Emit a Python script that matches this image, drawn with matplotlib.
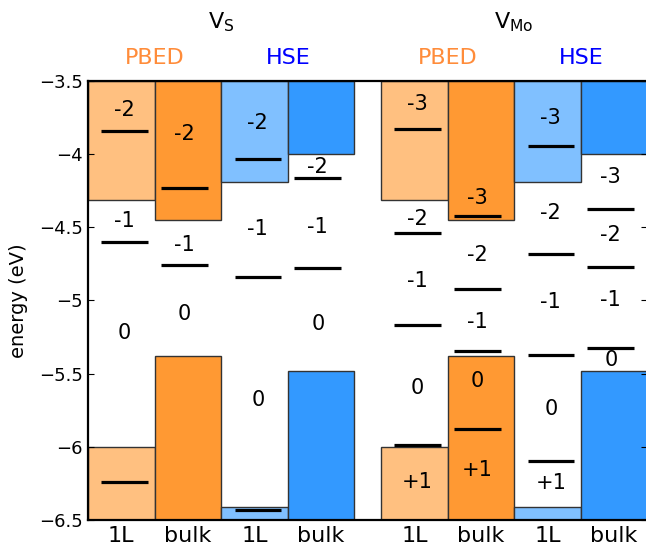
"""Defect transition levels of V_S and V_Mo, PBED vs HSE, monolayer vs bulk"""
import numpy as np
import matplotlib.pyplot as plt
import matplotlib.transforms as mtransforms

plt.rcParams['font.family'] = ['DejaVu Sans']
plt.rcParams['mathtext.default'] = 'regular'

# band edges for each column (eV)
col_labels = ['1L', 'bulk', '1L', 'bulk', '1L', 'bulk', '1L', 'bulk']
cbm = [-4.31, -4.45, -4.19, -4.00, -4.31, -4.45, -4.19, -4.00]
vbm = [-6.00, -5.38, -6.41, -5.48, -6.00, -5.38, -6.41, -5.48]

# transition levels (eV)
levels = [
    [-3.84, -4.60, -6.24],
    [-4.23, -4.76],
    [-4.03, -4.84, -6.43],
    [-4.165, -4.78],
    [-3.83, -4.54, -5.17, -5.99],
    [-4.42, -4.92, -5.345, -5.88],
    [-3.944, -4.68, -5.37, -6.10],
    [-4.377, -4.77, -5.327],
]

# charge state labels and where they sit
charges = [
    ['-2', '-1', '0'],
    ['-2', '-1', '0'],
    ['-2', '-1', '0'],
    ['-2', '-1', '0'],
    ['-3', '-2', '-1', '0', '+1'],
    ['-3', '-2', '-1', '0', '+1'],
    ['-3', '-2', '-1', '0', '+1'],
    ['-3', '-2', '-1', '0'],
]
charge_y = [
    [-3.70, -4.46, -5.22],
    [-3.86, -4.62, -5.09],
    [-3.79, -4.51, -5.68],
    [-4.09, -4.50, -5.16],
    [-3.66, -4.44, -4.87, -5.60, -6.24],
    [-4.30, -4.69, -5.145, -5.55, -6.16],
    [-3.75, -4.40, -5.01, -5.74, -6.25],
    [-4.154, -4.55, -5.00, -5.41],
]

defects = ['V$_S$', 'V$_{Mo}$']
methods = ['PBED', 'HSE']
y_ticks = [-3.5, -4, -4.5, -5, -5.5, -6, -6.5]
y_ticklabels = ['\u22123.5', '\u22124', '\u22124.5', '\u22125',
                '\u22125.5', '\u22126', '\u22126.5']

fill_colors = ['#ffc080', '#ff9933', '#80c0ff', '#3399ff']
method_colors = ['#ff8c3a', '#0000ff']
group_gap = 0.4

fig = plt.figure(figsize=(6.46, 5.54), dpi=100)
ax = fig.add_axes([0.1362, 0.0614, 0.866, 0.7924])
ymin, ymax = -6.5, -3.5

x_left = np.array([g * (4 + group_gap) + i for g in range(2) for i in range(4)])

# conduction band from the top, valence band from the bottom
colors = fill_colors * 2
for x0, c, v, col in zip(x_left, cbm, vbm, colors):
    ax.bar(x0, ymax - c, bottom=c, width=1, align='edge',
           color=col, edgecolor='#333333', linewidth=1, zorder=1)
    ax.bar(x0, v - ymin, bottom=ymin, width=1, align='edge',
           color=col, edgecolor='#333333', linewidth=1, zorder=1)

# levels and charge states
for k, x0 in enumerate(x_left):
    start = 0.2 if col_labels[k] == '1L' else 0.1
    for e in levels[k]:
        ax.plot([x0 + start, x0 + start + 0.7], [e, e], color='black',
                lw=2.3, solid_capstyle='butt', zorder=3)
    for q, yq in zip(charges[k], charge_y[k]):
        ax.text(x0 + start + 0.35, yq, q, ha='center', va='center',
                fontsize=15, zorder=4)

# headers above the axes
trans = mtransforms.blended_transform_factory(ax.transData, ax.transAxes)
for g, name in enumerate(defects):
    gx = g * (4 + group_gap)
    ax.text(gx + 2, 1.134, name, transform=trans, ha='center', va='center',
            fontsize=16)
    for m, meth in enumerate(methods):
        ax.text(gx + 2 * m + 1, 1.052, meth, transform=trans, ha='center',
                va='center', fontsize=16, color=method_colors[m])

ax.set_xlim(0, 8 + group_gap)
ax.set_ylim(ymin, ymax)
ax.set_xticks(x_left + 0.5)
ax.set_xticklabels(col_labels, fontsize=16)
ax.tick_params(axis='x', length=0, pad=4)
ax.set_yticks(y_ticks)
ax.set_yticklabels(y_ticklabels, fontsize=13)
ax.tick_params(axis='y', direction='in', left=True, right=True, length=4)
ax.set_ylabel('energy (eV)', fontsize=14)
ax.yaxis.set_label_coords(-0.107, 0.5)
for s in ax.spines.values():
    s.set_linewidth(1.6)

plt.savefig('out.png', dpi=100)
